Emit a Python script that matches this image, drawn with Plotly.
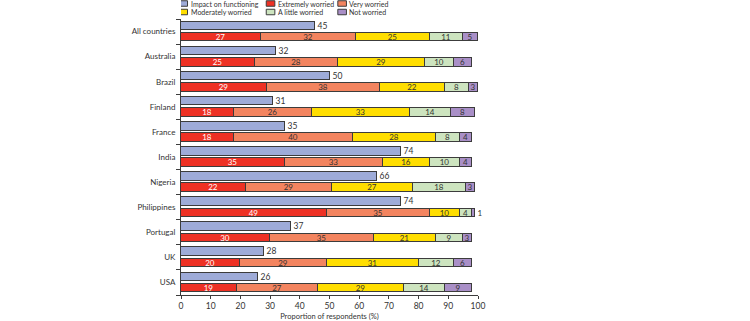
import plotly.graph_objects as go

countries = ["All countries", "Australia", "Brazil", "Finland", "France", "India",
             "Nigeria", "Philippines", "Portugal", "UK", "USA"]
impact = [45, 32, 50, 31, 35, 74, 66, 74, 37, 28, 26]
extremely = [27, 25, 29, 18, 18, 35, 22, 49, 30, 20, 19]
very = [32, 28, 38, 26, 40, 33, 29, 35, 35, 29, 27]
moderately = [25, 29, 22, 33, 28, 16, 27, 10, 21, 31, 29]
little = [11, 10, 8, 14, 8, 10, 18, 4, 9, 12, 14]
not_worried = [5, 6, 3, 8, 4, 4, 3, 1, 3, 6, 9]
x_ticks = [0, 10, 20, 30, 40, 50, 60, 70, 80, 90, 100]

series_names = ["Impact on functioning", "Extremely worried", "Very worried",
                "Moderately worried", "A little worried", "Not worried"]
colors = ["#9EABD8", "#EE3124", "#F3845F", "#FFDE00", "#CDE4BF", "#A98FC7"]
text_colors = ["#333333", "#FFFFFF", "#333333", "#333333", "#333333", "#333333"]
edge = "#3C3C3C"
FONT = "Lato"

W, H = 750, 321
L, R, T, B = 181, 272, 19, 26
plot_h = H - T - B

idx = list(range(len(countries)))
off = 0.225
bw = 0.34

fig = go.Figure()

fig.add_trace(go.Bar(
    orientation="h", x=impact, y=[i - off for i in idx], width=bw,
    marker=dict(color=colors[0], line=dict(color=edge, width=1)),
    text=[str(v) for v in impact], textposition="outside", constraintext="none",
    textfont=dict(size=8.5, color="#333333", family=FONT),
    cliponaxis=False, showlegend=False, name=series_names[0],
))

stack_vals = [extremely, very, moderately, little, not_worried]
for k, vals in enumerate(stack_vals, start=1):
    if k == 5:
        pos = ["inside" if v > 1 else "outside" for v in vals]
    else:
        pos = "inside"
    fig.add_trace(go.Bar(
        orientation="h", x=vals, y=[i + off for i in idx], width=bw,
        marker=dict(color=colors[k], line=dict(color=edge, width=1)),
        text=[str(v) for v in vals], textposition=pos,
        insidetextanchor="middle", constraintext="none", textangle=0,
        insidetextfont=dict(size=8, color=text_colors[k], family=FONT),
        outsidetextfont=dict(size=8, color="#333333", family=FONT),
        cliponaxis=False, showlegend=False, name=series_names[k],
    ))

# manual legend (2 rows x 3 columns) above the plot
col_x0 = [-0.7, 28.7, 52.8]   # square left edge, x data units
sq_w = 2.9                    # data units
text_gap = 1.0
row_px = [3.5, 12.0]          # pixel centre of each row
sq_h = 5.5                    # px
shapes = []
annotations = []
for k, name in enumerate(series_names):
    c, r = k % 3, k // 3
    yc = (H - B - row_px[r]) / plot_h
    dh = (sq_h / 2) / plot_h
    shapes.append(dict(type="rect", xref="x", yref="paper",
                       x0=col_x0[c], x1=col_x0[c] + sq_w, y0=yc - dh, y1=yc + dh,
                       fillcolor=colors[k], line=dict(color=edge, width=1)))
    annotations.append(dict(xref="x", yref="paper", x=col_x0[c] + sq_w + text_gap, y=yc,
                            text=name, showarrow=False, xanchor="left", yanchor="middle",
                            xshift=-2, font=dict(size=7, color="#333333", family=FONT)))

fig.update_layout(
    width=W, height=H, margin=dict(l=L, r=R, t=T, b=B),
    paper_bgcolor="white", plot_bgcolor="white",
    barmode="stack", bargap=0,
    font=dict(family=FONT, size=9, color="#333333"),
    shapes=shapes, annotations=annotations,
)

fig.update_xaxes(
    range=[0, 100], tickvals=x_ticks, ticktext=[str(v) for v in x_ticks],
    showgrid=False, zeroline=False, showline=True, linecolor=edge, linewidth=1,
    ticks="outside", ticklen=3, tickcolor=edge, tickwidth=1,
    tickfont=dict(size=8.5, color="#333333", family=FONT),
    automargin=False,
    title=dict(text="Proportion of respondents (%)", standoff=3,
               font=dict(size=7.5, color="#333333", family=FONT)),
)

fig.update_yaxes(
    range=[len(countries) - 0.5, -0.5],
    tickvals=idx, ticktext=countries, ticks="",
    showgrid=False, zeroline=False, showline=True, linecolor=edge, linewidth=1,
    tickfont=dict(size=8, color="#333333", family=FONT),
    ticklabelstandoff=3, automargin=False,
    minor=dict(tickvals=[i - 0.5 for i in idx] + [len(countries) - 0.5],
               ticks="outside", ticklen=4, tickcolor=edge, tickwidth=1, showgrid=False),
)

fig.write_html("out.html")
